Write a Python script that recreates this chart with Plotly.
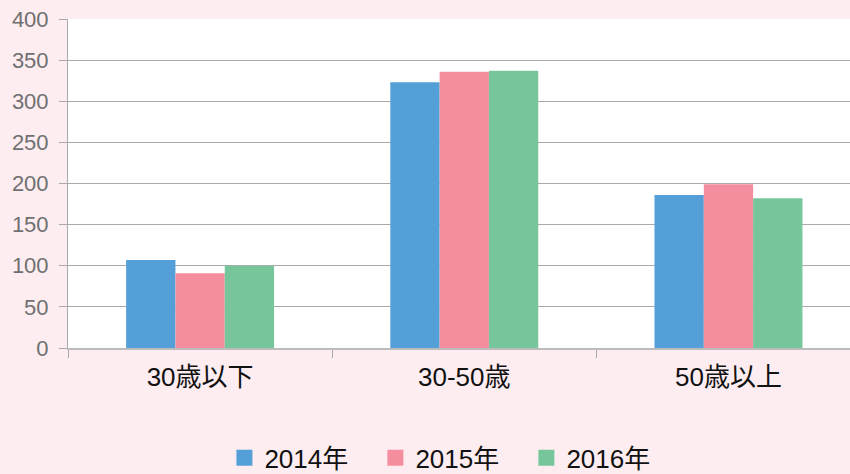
import plotly.graph_objects as go

categories = ["30歳以下", "30-50歳", "50歳以上"]
series_names = ["2014年", "2015年", "2016年"]
values_2014 = [107, 323, 186]
values_2015 = [91, 336, 199]
values_2016 = [100, 337, 182]
colors = ["#559FD8", "#F48E9E", "#77C69B"]
y_ticks = [0, 50, 100, 150, 200, 250, 300, 350, 400]

font_family = "Liberation Sans, Noto Sans CJK JP, sans-serif"

fig = go.Figure()
for name, vals, col in zip(series_names, [values_2014, values_2015, values_2016], colors):
    fig.add_trace(go.Bar(
        x=categories, y=vals, name=name, legendgroup=name, showlegend=False,
        marker=dict(color=col, line=dict(width=0)),
    ))
    # legend swatch: a larger square marker than the default bar symbol
    fig.add_trace(go.Scatter(
        x=[None], y=[None], name=name, legendgroup=name, mode="markers",
        marker=dict(symbol="square", size=19, color=col),
    ))

fig.update_layout(
    width=850, height=474,
    margin=dict(l=68, r=0, t=19, b=126, autoexpand=False),
    paper_bgcolor="#FDEDF0",
    plot_bgcolor="#FFFFFF",
    barmode="group",
    bargap=0.44,
    bargroupgap=0,
    font=dict(family=font_family),
    showlegend=True,
    legend=dict(
        orientation="h", x=0.2, xanchor="left", y=-0.334, yanchor="middle",
        font=dict(size=26, color="#111111"),
        itemwidth=30, traceorder="normal",
        entrywidth=106, entrywidthmode="pixels",
        bgcolor="rgba(0,0,0,0)",
    ),
    xaxis=dict(
        type="category",
        range=[-0.5, 2.46],
        automargin=False,
        tickson="boundaries",
        ticks="outside", ticklen=8, tickcolor="#AAAAAA",
        showline=True, linecolor="#BBBBBB", linewidth=2,
        ticklabelstandoff=5,
        tickfont=dict(size=26, color="#111111"),
        showgrid=False,
    ),
    yaxis=dict(
        range=[0, 400],
        automargin=False,
        tickvals=y_ticks,
        ticks="outside", ticklen=8, tickcolor="#AAAAAA",
        showline=True, linecolor="#AAAAAA", linewidth=1,
        gridcolor="#AAAAAA", gridwidth=1,
        zeroline=False,
        ticklabelstandoff=6,
        tickfont=dict(size=22, color="#707070"),
    ),
)

fig.write_html("out.html")
